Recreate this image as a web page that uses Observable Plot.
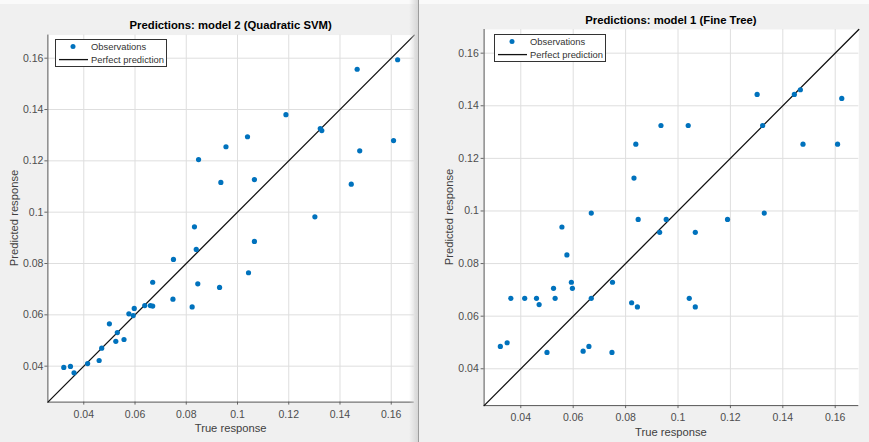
<!DOCTYPE html>
<html>
<head>
<meta charset="utf-8">
<script src="https://cdn.jsdelivr.net/npm/d3@7"></script>
<script src="https://cdn.jsdelivr.net/npm/@observablehq/plot@0.6"></script>
<style>
  html, body { margin: 0; padding: 0; background: #f0f0f0; }
  #fig { position: relative; width: 869px; height: 442px; overflow: hidden; background: #f0f0f0;
         font-family: "Liberation Sans", Arial, Helvetica, sans-serif; }
  .panel { position: absolute; top: 0; height: 442px; }
  .txt { position: absolute; white-space: nowrap; transform: translate(-50%, -50%); }
  .title { font-weight: bold; font-size: 11.3px; color: #000; }
  .xlabel { font-size: 11.2px; color: #404040; }
  .ylabel { font-size: 11.2px; color: #404040; transform: translate(-50%, -50%) rotate(-90deg); }
  .legend { position: absolute; }
  #topstrip { position: absolute; left: 0; top: 0; width: 869px; height: 4px; background: #fafafa; }
  #shade { position: absolute; left: 409px; top: 0; width: 9px; height: 442px;
           background: linear-gradient(to right, rgba(220,220,220,0), #d6d6d6); }
  #sep { position: absolute; left: 417.5px; top: 0; width: 1.6px; height: 442px; background: #9c9c9c; }
</style>
</head>
<body>
<div id="fig">
  <div id="topstrip"></div>
</div>
<script>
// ---- data ----
const trueResponse = [
  0.0322, 0.0348, 0.0362, 0.0415, 0.0460, 0.0470, 0.0500, 0.0525, 0.0531, 0.0557,
  0.0576, 0.0593, 0.0597, 0.0638, 0.0660, 0.0669, 0.0669, 0.0748, 0.0750, 0.0823,
  0.0832, 0.0839, 0.0845, 0.0848, 0.0930, 0.0935, 0.0955, 0.1039, 0.1043, 0.1066,
  0.1066, 0.1189, 0.1302, 0.1323, 0.1329, 0.1444, 0.1467, 0.1477, 0.1609, 0.1625
];
const predictedSVM = [
  0.0395, 0.0399, 0.0374, 0.0410, 0.0422, 0.0470, 0.0565, 0.0497, 0.0531, 0.0504,
  0.0604, 0.0597, 0.0625, 0.0636, 0.0636, 0.0634, 0.0727, 0.0661, 0.0816, 0.0631,
  0.0943, 0.0855, 0.0721, 0.1205, 0.0707, 0.1116, 0.1255, 0.1294, 0.0764, 0.1127,
  0.0886, 0.1380, 0.0982, 0.1326, 0.1318, 0.1109, 0.1557, 0.1239, 0.1279, 0.1594
];
const predictedTree = [
  0.0485, 0.0499, 0.0668, 0.0668, 0.0668, 0.0644, 0.0462, 0.0706, 0.0668, 0.0939,
  0.0833, 0.0729, 0.0706, 0.0467, 0.0485, 0.0992, 0.0668, 0.0462, 0.0729, 0.0651,
  0.1125, 0.1254, 0.0635, 0.0968, 0.0919, 0.1325, 0.0968, 0.1325, 0.0668, 0.0919,
  0.0635, 0.0968, 0.1443, 0.1325, 0.0992, 0.1443, 0.1461, 0.1254, 0.1254, 0.1428
];
const axisLimits = [0.026, 0.169];
const tickValues = [0.04, 0.06, 0.08, 0.10, 0.12, 0.14, 0.16];
const tickLabels = ["0.04", "0.06", "0.08", "0.1", "0.12", "0.14", "0.16"];
const titles = ["Predictions: model 2 (Quadratic SVM)", "Predictions: model 1 (Fine Tree)"];
const legendLabels = ["Observations", "Perfect prediction"];
const xLabel = "True response";
const yLabel = "Predicted response";

const dotColor = "#0072BD";
const fig = document.getElementById("fig");
const fmt = d => tickLabels[tickValues.findIndex(t => Math.abs(t - d) < 1e-9)];

function panel({left, width, mL, mR, mT, mB, yPad, predicted, title, titleY, xLabelY, yLabelX, legX, legY}) {
  const pts = trueResponse.map((t, i) => ({t, p: predicted[i]}));
  const chart = Plot.plot({
    width, height: 442,
    marginLeft: mL, marginRight: mR, marginTop: mT, marginBottom: mB,
    style: {background: "transparent", fontFamily: "'Liberation Sans', Arial, sans-serif",
            fontSize: "10.5px", color: "#4d4d4d", overflow: "visible"},
    x: {domain: axisLimits},
    y: {domain: axisLimits},
    marks: [
      Plot.frame({fill: "white", stroke: null}),
      Plot.gridX(tickValues, {stroke: "#dedede", strokeOpacity: 1, strokeWidth: 1}),
      Plot.gridY(tickValues, {stroke: "#dedede", strokeOpacity: 1, strokeWidth: 1}),
      Plot.axisX(tickValues, {tickFormat: fmt, tickSize: 3, tickPadding: 5, label: null, stroke: "#666"}),
      Plot.axisY(tickValues, {tickFormat: fmt, tickSize: 3, tickPadding: yPad, label: null, stroke: "#666"}),
      Plot.ruleX([axisLimits[0]], {stroke: "#555", strokeWidth: 1}),
      Plot.ruleY([axisLimits[0]], {stroke: "#555", strokeWidth: 1}),
      Plot.line(axisLimits, {x: d => d, y: d => d, stroke: "#111", strokeWidth: 1.3}),
      Plot.dot(pts, {x: "t", y: "p", r: 2.6, fill: dotColor, stroke: null})
    ]
  });
  const wrap = document.createElement("div");
  wrap.className = "panel";
  wrap.style.left = left + "px";
  wrap.style.width = width + "px";
  wrap.appendChild(chart);
  fig.appendChild(wrap);

  const cx = left + mL + (width - mL - mR) / 2;
  const cy = mT + (442 - mT - mB) / 2;
  const addText = (cls, text, x, y) => {
    const d = document.createElement("div");
    d.className = "txt " + cls;
    d.textContent = text;
    d.style.left = x + "px";
    d.style.top = y + "px";
    fig.appendChild(d);
  };
  addText("title", title, cx, titleY);
  addText("xlabel", xLabel, cx, xLabelY);
  addText("ylabel", yLabel, yLabelX, cy);

  // legend
  const ns = "http://www.w3.org/2000/svg";
  const lg = document.createElementNS(ns, "svg");
  lg.setAttribute("class", "legend");
  lg.setAttribute("width", 112);
  lg.setAttribute("height", 28);
  lg.style.left = legX + "px";
  lg.style.top = legY + "px";
  lg.innerHTML = `
    <rect x="0.5" y="0.5" width="111" height="27" fill="white" stroke="#333" stroke-width="1"/>
    <circle cx="18" cy="7.6" r="2.5" fill="${dotColor}"/>
    <line x1="4" x2="33" y1="20.6" y2="20.6" stroke="#111" stroke-width="1.3"/>
    <text x="36" y="7.6" dy="0.35em" font-size="9.4" fill="#333" font-family="Liberation Sans, Arial, sans-serif">${legendLabels[0]}</text>
    <text x="36" y="20.6" dy="0.35em" font-size="9.4" fill="#333" font-family="Liberation Sans, Arial, sans-serif">${legendLabels[1]}</text>`;
  fig.appendChild(lg);
}

panel({left: 0, width: 418, mL: 47.4, mR: 4.2, mT: 34.6, mB: 40.4, yPad: 1.5,
       predicted: predictedSVM, title: titles[0], titleY: 25, xLabelY: 428, yLabelX: 13.5,
       legX: 55, legY: 39});
panel({left: 420, width: 449, mL: 63.6, mR: 10.7, mT: 29, mB: 36.9, yPad: 2.3,
       predicted: predictedTree, title: titles[1], titleY: 19.5, xLabelY: 432, yLabelX: 449,
       legX: 494, legY: 34});

const shade = document.createElement("div"); shade.id = "shade"; fig.appendChild(shade);
const sep = document.createElement("div"); sep.id = "sep"; fig.appendChild(sep);
</script>
</body>
</html>
